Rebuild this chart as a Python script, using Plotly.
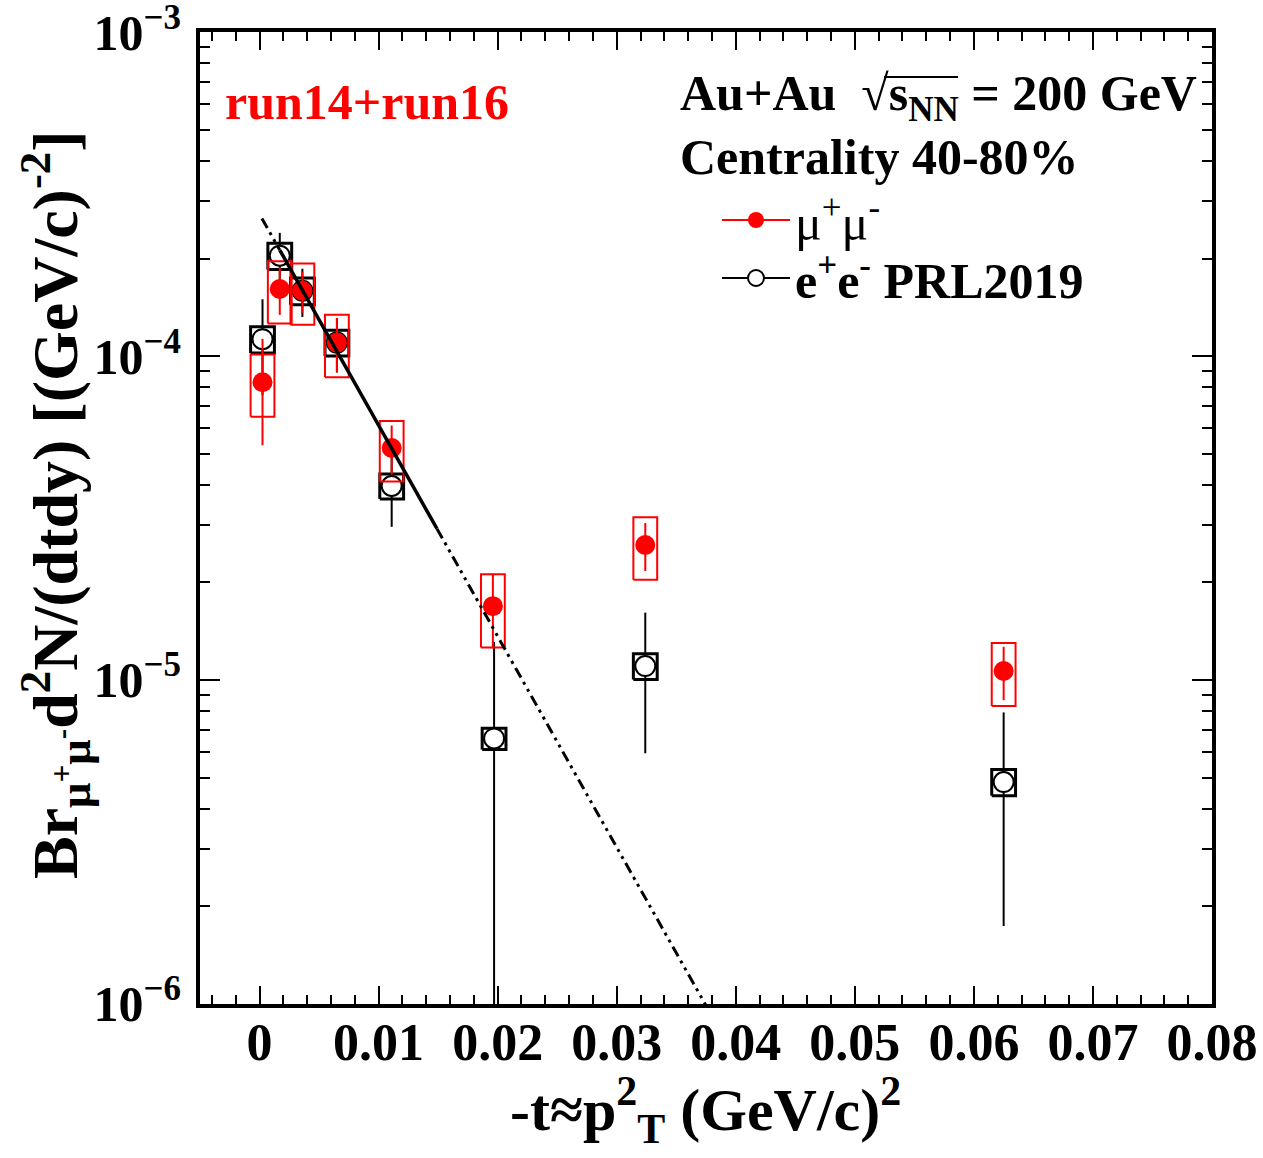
import numpy as np
import plotly.graph_objects as go

# ---------------- data ----------------
t_mumu = [0.00025, 0.0017, 0.0036, 0.0065, 0.0111, 0.0196, 0.0324, 0.0625]
y_mumu = [8.3e-5, 1.61e-4, 1.59e-4, 1.10e-4, 5.2e-5, 1.69e-5, 2.61e-5, 1.066e-5]
stat_mumu = [3.0e-5, 2.7e-5, 2.3e-5, 2.1e-5, 0.9e-5, 0.44e-5, 0.44e-5, 2.0e-6]
sys_mumu = [1.8e-5, 3.5e-5, 3.4e-5, 2.4e-5, 1.1e-5, 0.43e-5, 0.57e-5, 2.35e-6]

t_ee = [0.00025, 0.0017, 0.0036, 0.0065, 0.0111, 0.0197, 0.0324, 0.0625]
y_ee = [1.127e-4, 2.04e-4, 1.59e-4, 1.10e-4, 3.97e-5, 6.6e-6, 1.104e-5, 4.84e-6]
stat_ee = [3.7e-5, 3.6e-5, 2.7e-5, 2.1e-5, 1.0e-5, 6.5e-6, 5.1e-6, 3.1e-6]
sys_ee = [1.05e-5, 1.9e-5, 1.5e-5, 1.0e-5, 3.5e-6, 5e-7, 1.0e-6, 4.5e-7]

box_halfwidth = 0.001

# exponential fit  dN/dt = A exp(-b t)
fit_A = 2.74e-4
fit_b = 150.0
fit_solid_range = [0.0017, 0.0149]
fit_dash_ranges = [[0.0002, 0.0017], [0.0149, 0.042]]

x_tick_vals = [0, 0.01, 0.02, 0.03, 0.04, 0.05, 0.06, 0.07, 0.08]
y_tick_vals = [1e-6, 1e-5, 1e-4, 1e-3]
y_tick_text = ["10<sup>\u22126</sup>", "10<sup>\u22125</sup>", "10<sup>\u22124</sup>", "10<sup>\u22123</sup>"]

FONT = "Liberation Serif"
RED = "#ff0000"


def box_path(xs, ys, hw, hs):
    bx, by = [], []
    for x, y, s in zip(xs, ys, hs):
        bx += [x - hw, x + hw, x + hw, x - hw, x - hw, None]
        by += [y - s, y - s, y + s, y + s, y - s, None]
    return bx, by


fig = go.Figure()

# e+e- systematic boxes
bx, by = box_path(t_ee, y_ee, box_halfwidth, sys_ee)
fig.add_trace(go.Scatter(x=bx, y=by, mode="lines", line=dict(color="black", width=3),
                         showlegend=False, hoverinfo="skip"))
# e+e- points
fig.add_trace(go.Scatter(x=t_ee, y=y_ee, mode="markers",
                         marker=dict(symbol="circle", size=20, color="white",
                                     line=dict(color="black", width=2)),
                         error_y=dict(type="data", array=stat_ee, color="black", thickness=2, width=0),
                         showlegend=False))
# mu+mu- systematic boxes
bx, by = box_path(t_mumu, y_mumu, box_halfwidth, sys_mumu)
fig.add_trace(go.Scatter(x=bx, y=by, mode="lines", line=dict(color=RED, width=2),
                         showlegend=False, hoverinfo="skip"))
# mu+mu- points
fig.add_trace(go.Scatter(x=t_mumu, y=y_mumu, mode="markers",
                         marker=dict(symbol="circle", size=20, color=RED),
                         error_y=dict(type="data", array=stat_mumu, color=RED, thickness=2, width=0),
                         showlegend=False))

# fit lines
def fit_curve(t0, t1):
    ts = np.linspace(t0, t1, 20)
    return ts, fit_A * np.exp(-fit_b * ts)

for r in fit_dash_ranges:
    ts, ys = fit_curve(*r)
    fig.add_trace(go.Scatter(x=ts, y=ys, mode="lines",
                             line=dict(color="black", width=3, dash="11px,5px,3px,5px,3px,5px"),
                             showlegend=False, hoverinfo="skip"))
ts, ys = fit_curve(*fit_solid_range)
fig.add_trace(go.Scatter(x=ts, y=ys, mode="lines", line=dict(color="black", width=3.5),
                         showlegend=False, hoverinfo="skip"))

# legend entries (two separate legends so each row can be placed like the reference)
fig.add_trace(go.Scatter(x=[None], y=[None], mode="lines+markers", name="\u03bc<sup>+</sup>\u03bc<sup>-</sup>",
                         line=dict(color=RED, width=2), marker=dict(color=RED, size=20), legend="legend"))
fig.add_trace(go.Scatter(x=[None], y=[None], mode="lines+markers", name="<b>e<sup>+</sup>e<sup>-</sup> PRL2019</b>",
                         line=dict(color="black", width=2),
                         marker=dict(color="white", size=20, line=dict(color="black", width=2)),
                         legend="legend2"))

axis_common = dict(showgrid=False, zeroline=False, showline=True, linecolor="black", linewidth=4,
                   mirror="allticks", ticks="inside", tickcolor="black", tickwidth=2, automargin=False,
                   ticklabeloverflow="allow")

fig.update_xaxes(range=[-0.005, 0.08], tickmode="array", tickvals=x_tick_vals,
                 ticktext=[("%g" % v) for v in x_tick_vals], ticklen=18, ticklabelstandoff=-10,
                 tickfont=dict(family=FONT, size=52, color="black", weight="bold"),
                 minor=dict(tick0=0, dtick=0.002, ticks="inside", ticklen=9, tickwidth=2, tickcolor="black"),
                 **axis_common)
y_minor = [d * 10.0 ** e for e in range(-6, -3) for d in range(2, 10)]
fig.update_yaxes(type="log", range=[-6.0002, -2.9998], tickmode="array", tickvals=y_tick_vals, ticktext=y_tick_text,
                 ticklen=20, ticklabelstandoff=5,
                 tickfont=dict(family=FONT, size=50, color="black", weight="bold"),
                 minor=dict(tickmode="array", tickvals=y_minor, ticks="inside", ticklen=10, tickwidth=2,
                            tickcolor="black"),
                 **axis_common)

def px(x):
    return (x - 200) / 1012.0

def py(y):
    return (1004 - y) / 972.0

annotations = [
    dict(text="<b>run14+run16</b>", x=px(223), y=py(102), xanchor="left", yanchor="middle",
         font=dict(family=FONT, size=50, color=RED)),
    dict(text="<b>Au+Au  \u221as<sub>NN</sub> = 200 GeV</b>", x=px(678), y=py(97), xanchor="left",
         yanchor="middle", font=dict(family=FONT, size=50, color="black")),
    dict(text="<b>Centrality 40-80%</b>", x=px(678), y=py(157), xanchor="left", yanchor="middle",
         font=dict(family=FONT, size=50, color="black")),
    dict(text="<b>-t\u2248p<sup>2</sup><sub>T</sub> (GeV/c)<sup>2</sup></b>", x=px(705), y=py(1110),
         xanchor="center", yanchor="middle", font=dict(family=FONT, size=60, color="black")),
    dict(text="<b>Br<sub>\u03bc<sup>+</sup>\u03bc<sup>-</sup></sub>d<sup>2</sup>N/(dtdy) [(GeV/c)<sup>-2</sup>]</b>",
         x=px(55), y=py(505), xanchor="center", yanchor="middle", textangle=-90,
         font=dict(family=FONT, size=64, color="black")),
]
for a in annotations:
    a.update(xref="paper", yref="paper", showarrow=False)

legend_common = dict(xanchor="left", yanchor="middle", bgcolor="rgba(0,0,0,0)",
                     font=dict(family=FONT, size=50, color="black"), itemwidth=68)

fig.update_layout(
    width=1263, height=1158,
    margin=dict(l=200, r=51, t=32, b=154, autoexpand=False),
    paper_bgcolor="white", plot_bgcolor="white",
    annotations=annotations,
    # overline of the square-root sign
    shapes=[dict(type="line", xref="paper", yref="paper", x0=px(884), x1=px(958), y0=py(77), y1=py(77),
                 line=dict(color="black", width=2))],
    showlegend=True,
    legend=dict(x=px(717), y=py(220), **legend_common),
    legend2=dict(x=px(717), y=py(278), **legend_common),
)

fig.write_html("out.html", post_script="document.body.style.margin='0';",
               config={"displayModeBar": False})
